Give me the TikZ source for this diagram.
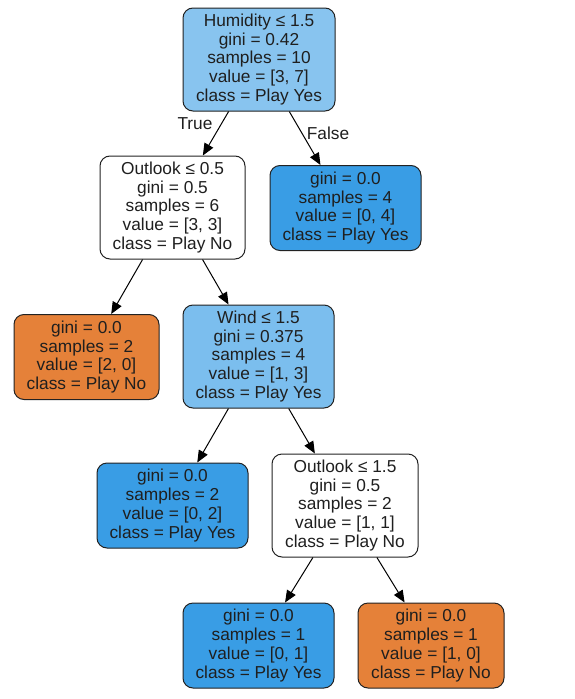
\documentclass[tikz,border=0pt]{standalone}
\usepackage{fontspec}
\setmainfont{Liberation Sans}
\usetikzlibrary{arrows.meta}
\definecolor{yesfull}{HTML}{399DE5}
\definecolor{nofull}{HTML}{E58139}
\definecolor{rootc}{HTML}{88C4EF}
\definecolor{windc}{HTML}{7BBEEE}
\definecolor{edgec}{HTML}{222222}
\tikzset{
  tnode/.style={draw=edgec, line width=1pt, rounded corners=10pt, align=center,
    font=\fontsize{17.3}{18.7}\selectfont, inner sep=0pt, text=black!88},
  split/.style={tnode, minimum height=103pt},
  leaf/.style={tnode, minimum height=85pt},
  conn/.style={draw=black, line width=1pt, -{Triangle[length=12pt,width=10pt]}},
  elab/.style={font=\fontsize{17.3}{18.7}\selectfont, text=black!88}
}
\begin{document}
\begin{tikzpicture}[x=1pt,y=-1pt]
\useasboundingbox (0,0) rectangle (574,699);
\node[split, fill=rootc, minimum width=152pt] (root) at (259,59.5)
  {Humidity ≤ 1.5\\gini = 0.42\\samples = 10\\value = [3, 7]\\class = Play Yes};
\node[split, fill=white, minimum width=145pt] (out1) at (172.5,207.5)
  {Outlook ≤ 0.5\\gini = 0.5\\samples = 6\\value = [3, 3]\\class = Play No};
\node[leaf, fill=yesfull, minimum width=151pt] (leafa) at (345.5,208)
  {gini = 0.0\\samples = 4\\value = [0, 4]\\class = Play Yes};
\node[leaf, fill=nofull, minimum width=145pt] (leafb) at (86.5,357)
  {gini = 0.0\\samples = 2\\value = [2, 0]\\class = Play No};
\node[split, fill=windc, minimum width=151pt] (wind) at (258.5,356.5)
  {Wind ≤ 1.5\\gini = 0.375\\samples = 4\\value = [1, 3]\\class = Play Yes};
\node[leaf, fill=yesfull, minimum width=151pt] (leafc) at (172.5,505.5)
  {gini = 0.0\\samples = 2\\value = [0, 2]\\class = Play Yes};
\node[split, fill=white, minimum width=146pt] (out2) at (345,505.5)
  {Outlook ≤ 1.5\\gini = 0.5\\samples = 2\\value = [1, 1]\\class = Play No};
\node[leaf, fill=yesfull, minimum width=151pt] (leafd) at (258.5,645.5)
  {gini = 0.0\\samples = 1\\value = [0, 1]\\class = Play Yes};
\node[leaf, fill=nofull, minimum width=146pt] (leafe) at (431,645.5)
  {gini = 0.0\\samples = 1\\value = [1, 0]\\class = Play No};
\draw[conn] (root) -- (out1);
\draw[conn] (root) -- (leafa);
\draw[conn] (out1) -- (leafb);
\draw[conn] (out1) -- (wind);
\draw[conn] (wind) -- (leafc);
\draw[conn] (wind) -- (out2);
\draw[conn] (out2) -- (leafd);
\draw[conn] (out2) -- (leafe);
\node[elab] (tlab) at (195,124) {True};
\node[elab] (flab) at (328,133) {False};
\end{tikzpicture}
\end{document}
